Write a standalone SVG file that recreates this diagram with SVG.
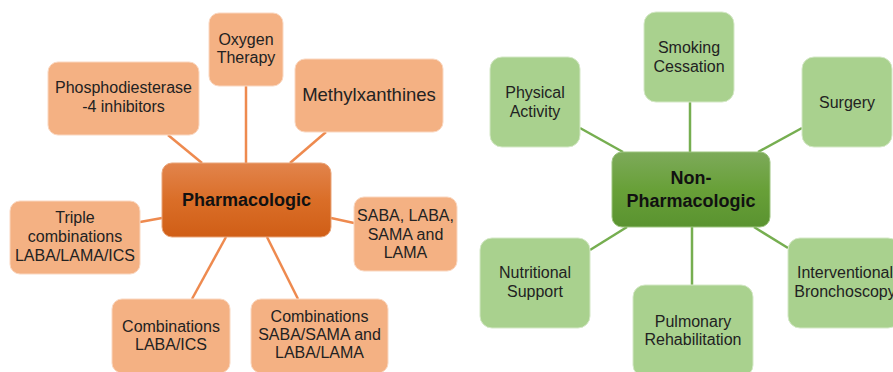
<svg xmlns="http://www.w3.org/2000/svg" width="893" height="372" viewBox="0 0 893 372">
<defs>
<linearGradient id="gO" x1="0" y1="0" x2="0" y2="1"><stop offset="0" stop-color="#E2844C"/><stop offset="0.5" stop-color="#DA6E28"/><stop offset="1" stop-color="#D05E16"/></linearGradient>
<linearGradient id="gG" x1="0" y1="0" x2="0" y2="1"><stop offset="0" stop-color="#7DAA5A"/><stop offset="0.5" stop-color="#68A038"/><stop offset="1" stop-color="#5A9330"/></linearGradient>
<style>
.lo{stroke:#EE8A4F;stroke-width:2.5;fill:none}
.lg{stroke:#76AE50;stroke-width:2.5;fill:none}
.no{fill:#F4B183;stroke:#FAD7C0;stroke-width:1}
.ng{fill:#A9D18E;stroke:#D4E8C6;stroke-width:1}
text{font-family:"Liberation Sans",Arial,sans-serif;font-size:16px;fill:#222;text-anchor:middle}
.b{font-weight:bold;font-size:18px;fill:#111}
</style>
</defs>
<g id="connectors">
<line class="lo" x1="168" y1="135" x2="202" y2="163"/>
<line class="lo" x1="246" y1="86" x2="246" y2="163"/>
<line class="lo" x1="326" y1="132" x2="290" y2="163"/>
<line class="lo" x1="140" y1="222" x2="162" y2="218"/>
<line class="lo" x1="331" y1="218" x2="354" y2="223"/>
<line class="lo" x1="192" y1="299" x2="226" y2="237"/>
<line class="lo" x1="298" y1="299" x2="267" y2="237"/>
<line class="lg" x1="580" y1="128" x2="623" y2="152"/>
<line class="lg" x1="690" y1="102" x2="690" y2="152"/>
<line class="lg" x1="802" y1="128" x2="758" y2="152"/>
<line class="lg" x1="590" y1="250" x2="627" y2="227"/>
<line class="lg" x1="692" y1="227" x2="692" y2="285"/>
<line class="lg" x1="788" y1="248" x2="754" y2="227"/>
</g>
<g id="pharmacologic">
<rect x="162" y="163" width="169" height="74" rx="10" fill="url(#gO)" stroke="#E9A57A" stroke-width="1"/>
<text class="b" x="246.5" y="206">Pharmacologic</text>
</g>
<g id="oxygen"><rect class="no" x="209" y="13" width="74" height="73" rx="10"/><text x="246" y="45">Oxygen<tspan x="246" y="63">Therapy</tspan></text></g>
<g id="pde4"><rect class="no" x="48" y="62" width="151" height="73" rx="10"/><text x="123.5" y="93">Phosphodiesterase<tspan x="123.5" y="112">-4 inhibitors</tspan></text></g>
<g id="methyl"><rect class="no" x="295" y="59" width="148" height="73" rx="10"/><text x="369" y="101" style="font-size:18.5px">Methylxanthines</text></g>
<g id="triple"><rect class="no" x="10" y="201" width="130" height="73" rx="10"/><text x="75" y="223">Triple<tspan x="75" y="242">combinations</tspan><tspan x="75" y="261">LABA/LAMA/ICS</tspan></text></g>
<g id="saba"><rect class="no" x="354" y="197" width="103" height="74" rx="10"/><text x="405.5" y="221">SABA, LABA,<tspan x="405.5" y="240">SAMA and</tspan><tspan x="405.5" y="258">LAMA</tspan></text></g>
<g id="laba-ics"><rect class="no" x="112" y="299" width="118" height="74" rx="10"/><text x="171" y="332">Combinations<tspan x="171" y="350">LABA/ICS</tspan></text></g>
<g id="saba-sama"><rect class="no" x="251" y="299" width="137" height="74" rx="10"/><text x="319.5" y="322">Combinations<tspan x="319.5" y="340">SABA/SAMA and</tspan><tspan x="319.5" y="358">LABA/LAMA</tspan></text></g>
<g id="non-pharmacologic">
<rect x="612" y="152" width="158" height="75" rx="10" fill="url(#gG)" stroke="#9CC47F" stroke-width="1"/>
<text class="b" x="691" y="184">Non-<tspan x="691" y="207">Pharmacologic</tspan></text>
</g>
<g id="smoking"><rect class="ng" x="644" y="12" width="90" height="90" rx="12"/><text x="689" y="53">Smoking<tspan x="689" y="72">Cessation</tspan></text></g>
<g id="physical"><rect class="ng" x="490" y="57" width="90" height="90" rx="12"/><text x="535" y="98">Physical<tspan x="535" y="117">Activity</tspan></text></g>
<g id="surgery"><rect class="ng" x="802" y="57" width="90" height="90" rx="12"/><text x="847" y="108">Surgery</text></g>
<g id="nutritional"><rect class="ng" x="480" y="238" width="110" height="90" rx="12"/><text x="535" y="278">Nutritional<tspan x="535" y="297">Support</tspan></text></g>
<g id="pulmonary"><rect class="ng" x="633" y="285" width="120" height="92" rx="12"/><text x="693" y="327">Pulmonary<tspan x="693" y="345">Rehabilitation</tspan></text></g>
<g id="interventional"><rect class="ng" x="788" y="238" width="112" height="90" rx="12"/><text x="845" y="278">Interventional<tspan x="845" y="297">Bronchoscopy</tspan></text></g>
</svg>
